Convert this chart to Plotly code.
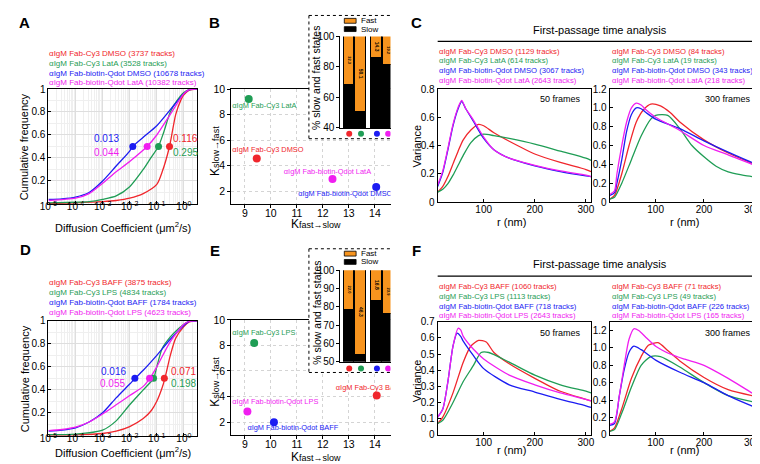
import plotly.graph_objects as go

W, H = 760, 464
FONT = "Liberation Sans, Arial, sans-serif"
RED, GREEN, BLUE, MAG = "#f0262c", "#1f9d55", "#1c1cf2", "#f01ef0"
ORANGE = "#f7941e"
COLORS = [RED, GREEN, BLUE, MAG]


def px(x):
    return x / W


def py(y):
    return 1 - y / H


# ---------------- Panel A : cumulative distributions ----------------
A_LEGEND = ["αIgM Fab-Cy3 DMSO (3737 tracks)", "αIgM Fab-Cy3 LatA (3528 tracks)",
            "αIgM Fab-biotin-Qdot DMSO (10678 tracks)", "αIgM Fab-biotin-Qdot LatA (10382 tracks)"]
A_LOGD_RED = [-5, -4, -3, -2.5, -2, -1.5, -1, -0.8, -0.53, -0.3, -0.1, 0, 0.2, 0.48]
A_CDF_RED = [0.005, 0.01, 0.02, 0.03, 0.05, 0.09, 0.17, 0.28, 0.5, 0.78, 0.91, 0.95, 0.99, 1.0]
A_LOGD_GREEN = [-5, -4, -3.5, -3, -2.5, -2, -1.5, -1.25, -0.94, -0.75, -0.5, -0.25, 0, 0.2, 0.48]
A_CDF_GREEN = [0.01, 0.015, 0.02, 0.04, 0.07, 0.15, 0.3, 0.39, 0.5, 0.62, 0.8, 0.9, 0.97, 0.995, 1.0]
A_LOGD_BLUE = [-5, -4.5, -4, -3.5, -3, -2.5, -2, -1.89, -1.5, -1, -0.5, 0, 0.2, 0.48]
A_CDF_BLUE = [0.04, 0.045, 0.06, 0.1, 0.2, 0.33, 0.46, 0.5, 0.58, 0.68, 0.82, 0.96, 0.995, 1.0]
A_LOGD_MAG = [-5, -4, -3.5, -3, -2.5, -2, -1.36, -1, -0.5, 0, 0.2, 0.48]
A_CDF_MAG = [0.03, 0.05, 0.09, 0.18, 0.28, 0.37, 0.5, 0.6, 0.78, 0.96, 0.995, 1.0]
A_MEDIAN = [0.295, 0.116, 0.013, 0.044]

# ---------------- Panel D ----------------
D_LEGEND = ["αIgM Fab-Cy3 BAFF (3875 tracks)", "αIgM Fab-Cy3 LPS (4834 tracks)",
            "αIgM Fab-biotin-Qdot BAFF (1784 tracks)", "αIgM Fab-biotin-Qdot LPS (4623 tracks)"]
D_LOGD_RED = [-5, -4, -3, -2.5, -2, -1.5, -1.2, -1, -0.8, -0.7, -0.5, -0.3, 0, 0.2, 0.48]
D_CDF_RED = [0.005, 0.008, 0.02, 0.04, 0.08, 0.15, 0.22, 0.3, 0.42, 0.5, 0.7, 0.85, 0.95, 0.99, 1.0]
D_LOGD_GREEN = [-5, -4, -3, -2.5, -2, -1.5, -1.12, -1, -0.8, -0.5, -0.25, 0, 0.2, 0.48]
D_CDF_GREEN = [0.01, 0.015, 0.05, 0.13, 0.27, 0.4, 0.5, 0.6, 0.76, 0.86, 0.92, 0.97, 0.995, 1.0]
D_LOGD_BLUE = [-5, -4.5, -4, -3.5, -3, -2.5, -2, -1.8, -1.5, -1, -0.5, 0, 0.2, 0.48]
D_CDF_BLUE = [0.04, 0.05, 0.07, 0.12, 0.2, 0.33, 0.45, 0.5, 0.57, 0.7, 0.84, 0.96, 0.995, 1.0]
D_LOGD_MAG = [-5, -4.5, -4, -3.5, -3, -2.5, -2, -1.5, -1.26, -1, -0.5, 0, 0.2, 0.48]
D_CDF_MAG = [0.045, 0.055, 0.075, 0.12, 0.19, 0.27, 0.35, 0.43, 0.5, 0.6, 0.82, 0.97, 0.995, 1.0]
D_MEDIAN = [0.19, 0.076, 0.0155, 0.054]

# ---------------- Panel B / E : rate constants ----------------
B_NAMES = ["αIgM Fab-Cy3 DMSO", "αIgM Fab-Cy3 LatA", "αIgM Fab-biotin-Qdot DMSO", "αIgM Fab-biotin-Qdot LatA"]
B_KFS = [9.46, 9.15, 14.05, 12.37]
B_KSF = [4.56, 9.21, 2.33, 2.96]
E_NAMES = ["αIgM Fab-Cy3 BAFF", "αIgM Fab-Cy3 LPS", "αIgM Fab-biotin-Qdot BAFF", "αIgM Fab-biotin-Qdot LPS"]
E_KFS = [14.07, 9.36, 10.12, 9.1]
E_KSF = [4.08, 8.19, 1.98, 2.83]

# inset bars (% slow / fast)
B_SLOW = [67.7, 49.9, 85.7, 80.8]
B_FAST = [32.3, 50.1, 14.3, 19.2]
E_SLOW = [78.0, 53.7, 83.2, 76.1]
E_FAST = [22.0, 46.3, 16.8, 23.9]
BAR_POS = [0, 1, 2.35, 3.3]

# ---------------- Panel C / F : first-passage time variance ----------------
C1_LEGEND = ["αIgM Fab-Cy3 DMSO (1129 tracks)", "αIgM Fab-Cy3 LatA (614 tracks)",
             "αIgM Fab-biotin-Qdot DMSO (3067 tracks)", "αIgM Fab-biotin-Qdot LatA (2643 tracks)"]
C2_LEGEND = ["αIgM Fab-Cy3 DMSO (84 tracks)", "αIgM Fab-Cy3 LatA (19 tracks)",
             "αIgM Fab-biotin-Qdot DMSO (343 tracks)", "αIgM Fab-biotin-Qdot LatA (218 tracks)"]
F1_LEGEND = ["αIgM Fab-Cy3 BAFF (1060 tracks)", "αIgM Fab-Cy3 LPS (1113 tracks)",
             "αIgM Fab-biotin-Qdot BAFF (718 tracks)", "αIgM Fab-biotin-Qdot LPS (2643 tracks)"]
F2_LEGEND = ["αIgM Fab-Cy3 BAFF (71 tracks)", "αIgM Fab-Cy3 LPS (49 tracks)",
             "αIgM Fab-biotin-Qdot BAFF (226 tracks)", "αIgM Fab-biotin-Qdot LPS (165 tracks)"]

C1_R_RED = [10, 20, 30, 40, 50, 60, 75, 90, 100, 120, 150, 200, 250, 300, 310]
C1_V_RED = [0.07, 0.11, 0.18, 0.27, 0.36, 0.44, 0.51, 0.55, 0.54, 0.49, 0.43, 0.34, 0.28, 0.23, 0.215]
C1_R_GREEN = [10, 20, 30, 40, 50, 60, 75, 90, 100, 120, 150, 200, 250, 300, 310]
C1_V_GREEN = [0.07, 0.09, 0.13, 0.19, 0.26, 0.33, 0.42, 0.47, 0.48, 0.47, 0.45, 0.41, 0.36, 0.31, 0.295]
C1_R_BLUE = [10, 20, 30, 40, 50, 57, 65, 80, 100, 120, 150, 200, 250, 300, 310]
C1_V_BLUE = [0.11, 0.21, 0.37, 0.54, 0.66, 0.71, 0.66, 0.57, 0.45, 0.37, 0.31, 0.255, 0.215, 0.185, 0.18]
C1_R_MAG = [10, 20, 30, 40, 50, 57, 65, 80, 100, 120, 150, 200, 250, 300, 310]
C1_V_MAG = [0.12, 0.22, 0.38, 0.55, 0.67, 0.72, 0.66, 0.58, 0.46, 0.37, 0.31, 0.26, 0.22, 0.19, 0.18]

C2_R_RED = [5, 15, 30, 45, 60, 75, 90, 110, 130, 150, 200, 250, 300, 320]
C2_V_RED = [0.03, 0.07, 0.3, 0.6, 0.85, 0.98, 1.04, 1.02, 0.95, 0.85, 0.66, 0.52, 0.41, 0.37]
C2_R_GREEN = [5, 15, 30, 50, 70, 90, 100, 125, 150, 175, 200, 225, 250, 275, 300, 320]
C2_V_GREEN = [0.03, 0.05, 0.2, 0.45, 0.7, 0.88, 0.92, 0.92, 0.78, 0.6, 0.48, 0.38, 0.32, 0.29, 0.27, 0.27]
C2_R_BLUE = [5, 15, 20, 30, 40, 50, 60, 70, 80, 100, 150, 200, 250, 300, 320]
C2_V_BLUE = [0.07, 0.1, 0.2, 0.45, 0.75, 0.93, 1.0, 0.99, 0.95, 0.88, 0.78, 0.65, 0.53, 0.42, 0.39]
C2_R_MAG = [5, 15, 20, 30, 40, 50, 60, 70, 80, 100, 150, 200, 250, 300, 320]
C2_V_MAG = [0.08, 0.12, 0.3, 0.6, 0.85, 1.0, 1.05, 1.03, 0.98, 0.9, 0.76, 0.6, 0.5, 0.4, 0.37]

F1_R_RED = [10, 20, 40, 60, 75, 90, 105, 120, 150, 200, 250, 300, 310]
F1_V_RED = [0.07, 0.11, 0.26, 0.45, 0.55, 0.585, 0.575, 0.51, 0.44, 0.35, 0.27, 0.22, 0.21]
F1_R_GREEN = [10, 20, 40, 60, 80, 95, 110, 150, 200, 250, 300, 310]
F1_V_GREEN = [0.07, 0.09, 0.2, 0.33, 0.43, 0.51, 0.51, 0.45, 0.37, 0.31, 0.27, 0.26]
F1_R_BLUE = [10, 20, 30, 40, 48, 55, 60, 80, 100, 150, 200, 250, 300, 310]
F1_V_BLUE = [0.11, 0.16, 0.33, 0.55, 0.63, 0.61, 0.58, 0.49, 0.41, 0.31, 0.265, 0.22, 0.18, 0.17]
F1_R_MAG = [10, 20, 30, 40, 50, 55, 60, 80, 100, 150, 200, 250, 300, 310]
F1_V_MAG = [0.11, 0.16, 0.33, 0.55, 0.66, 0.65, 0.61, 0.53, 0.47, 0.37, 0.31, 0.26, 0.22, 0.21]

F2_R_RED = [5, 15, 30, 50, 70, 85, 105, 125, 150, 200, 250, 300, 320]
F2_V_RED = [0.04, 0.08, 0.3, 0.65, 0.9, 1.03, 1.06, 0.97, 0.85, 0.66, 0.52, 0.45, 0.43]
F2_R_GREEN = [5, 15, 30, 50, 70, 90, 110, 150, 200, 250, 300, 320]
F2_V_GREEN = [0.04, 0.06, 0.25, 0.55, 0.8, 0.9, 0.9, 0.78, 0.6, 0.45, 0.38, 0.35]
F2_R_BLUE = [5, 15, 25, 35, 45, 55, 70, 100, 150, 200, 250, 300, 320]
F2_V_BLUE = [0.11, 0.13, 0.45, 0.75, 0.95, 1.02, 0.98, 0.86, 0.72, 0.6, 0.45, 0.33, 0.29]
F2_R_MAG = [5, 15, 25, 35, 45, 55, 65, 80, 100, 130, 160, 200, 250, 300, 320]
F2_V_MAG = [0.12, 0.15, 0.45, 0.8, 1.1, 1.22, 1.2, 1.12, 1.02, 0.93, 0.87, 0.8, 0.65, 0.48, 0.42]

fig = go.Figure()


def add_lines(xs, ys, xa, ya, log=False):
    for x, y, c in zip(xs, ys, COLORS):
        xx = [10 ** e for e in x] if log else x
        fig.add_trace(go.Scatter(x=xx, y=y, mode="lines", xaxis=xa, yaxis=ya,
                                 line=dict(color=c, width=1.3, shape="spline", smoothing=0.7),
                                 hoverinfo="skip", showlegend=False))


# Panel A
add_lines([A_LOGD_RED, A_LOGD_GREEN, A_LOGD_BLUE, A_LOGD_MAG],
          [A_CDF_RED, A_CDF_GREEN, A_CDF_BLUE, A_CDF_MAG], "x", "y", log=True)
fig.add_trace(go.Scatter(x=A_MEDIAN, y=[0.5] * 4, mode="markers", xaxis="x", yaxis="y",
                         marker=dict(color=COLORS, size=7), showlegend=False))
# Panel D
add_lines([D_LOGD_RED, D_LOGD_GREEN, D_LOGD_BLUE, D_LOGD_MAG],
          [D_CDF_RED, D_CDF_GREEN, D_CDF_BLUE, D_CDF_MAG], "x7", "y7", log=True)
fig.add_trace(go.Scatter(x=D_MEDIAN, y=[0.5] * 4, mode="markers", xaxis="x7", yaxis="y7",
                         marker=dict(color=COLORS, size=7), showlegend=False))

# Panel C / F
add_lines([C1_R_RED, C1_R_GREEN, C1_R_BLUE, C1_R_MAG], [C1_V_RED, C1_V_GREEN, C1_V_BLUE, C1_V_MAG], "x5", "y5")
add_lines([C2_R_RED, C2_R_GREEN, C2_R_BLUE, C2_R_MAG], [C2_V_RED, C2_V_GREEN, C2_V_BLUE, C2_V_MAG], "x6", "y6")
add_lines([F1_R_RED, F1_R_GREEN, F1_R_BLUE, F1_R_MAG], [F1_V_RED, F1_V_GREEN, F1_V_BLUE, F1_V_MAG], "x11", "y11")
add_lines([F2_R_RED, F2_R_GREEN, F2_R_BLUE, F2_R_MAG], [F2_V_RED, F2_V_GREEN, F2_V_BLUE, F2_V_MAG], "x12", "y12")


# Panels B / E scatter with labels (label anchor positions in data units)
def add_rates(kfs, ksf, names, label_xy, xa, ya):
    fig.add_trace(go.Scatter(x=kfs, y=ksf, mode="markers", xaxis=xa, yaxis=ya,
                             marker=dict(color=COLORS, size=8), showlegend=False))
    fig.add_trace(go.Scatter(x=[p[0] for p in label_xy], y=[p[1] for p in label_xy], mode="text",
                             text=names, textposition="middle right", xaxis=xa, yaxis=ya,
                             textfont=dict(color=COLORS, size=7.4), cliponaxis=True, showlegend=False))


add_rates(B_KFS, B_KSF, B_NAMES, [(8.52, 5.19), (8.52, 8.63), (11.05, 1.76), (10.5, 3.52)], "x2", "y2")
add_rates(E_KFS, E_KSF, E_NAMES, [(12.5, 4.66), (8.52, 8.93), (9.1, 1.53), (8.52, 3.52)], "x8", "y8")

# cover subplots (white background for insets, same scale as the inset axes) with the colour dots
for xa, ya, ydot in (("x3", "y3", 36.2), ("x9", "y9", 46.3)):
    fig.add_trace(go.Scatter(x=BAR_POS, y=[ydot] * 4, mode="markers", xaxis=xa, yaxis=ya,
                             marker=dict(color=COLORS, size=6), showlegend=False))


def add_inset(slow, fast, xa, ya):
    fig.add_trace(go.Bar(x=BAR_POS, y=slow, xaxis=xa, yaxis=ya, width=0.88,
                         marker=dict(color="black", line=dict(color="black", width=1)), showlegend=False))
    fig.add_trace(go.Bar(x=BAR_POS, y=fast, xaxis=xa, yaxis=ya, width=0.88,
                         marker=dict(color=ORANGE, line=dict(color="black", width=1)),
                         texttemplate="<b>%{y:.1f}</b>", textposition="inside", insidetextanchor="middle",
                         textangle=90, textfont=dict(size=6, color="black"), showlegend=False))


add_inset(B_SLOW, B_FAST, "x4", "y4")
add_inset(E_SLOW, E_FAST, "x10", "y10")

# ---------------- axes ----------------
TF = dict(size=10, color="black")


def box(**kw):
    d = dict(showline=True, linecolor="black", linewidth=1, mirror=True, ticks="inside", ticklen=3,
             tickcolor="black", zeroline=False, showgrid=False, tickfont=TF)
    d.update(kw)
    return d


LOG_TV = [1e-5, 1e-4, 1e-3, 1e-2, 1e-1, 1]
LOG_TT = ["10<sup>-5</sup>", "10<sup>-4</sup>", "10<sup>-3</sup>", "10<sup>-2</sup>", "10<sup>-1</sup>", "10<sup>0</sup>"]
LOG_MINOR = [k * 10.0 ** e for e in range(-5, 1) for k in range(2, 10)]


def cdf_axes(xd, yd, anchor_x, anchor_y):
    xa = box(domain=xd, anchor=anchor_y, type="log", range=[-5, 0.48], tickmode="array",
             tickvals=LOG_TV, ticktext=LOG_TT, showgrid=True, gridcolor="#dedede", ticklabelstandoff=-7,
             minor=dict(tickmode="array", tickvals=LOG_MINOR, showgrid=True, gridcolor="#efefef", ticks=""))
    ya = box(domain=yd, anchor=anchor_x, range=[0, 1], tickmode="array",
             tickvals=[0.2, 0.4, 0.6, 0.8, 1], ticktext=["0.2", "0.4", "0.6", "0.8", "1"],
             showgrid=True, gridcolor="#dedede",
             minor=dict(dtick=0.1, showgrid=True, gridcolor="#efefef", ticks=""))
    return xa, ya


def rate_axes(xd, yd, anchor_x, anchor_y):
    common = dict(showline=True, linecolor="black", linewidth=1.2, ticks="outside", ticklen=3,
                  tickcolor="black", zeroline=False, showgrid=True, gridcolor="#d4d4d4",
                  griddash="dot", tickfont=dict(size=10.5, color="black"))
    xa = dict(common, domain=xd, anchor=anchor_y, range=[8.48, 14.6], tickvals=[9, 10, 11, 12, 13, 14],
              mirror=True, ticklabelstandoff=-4)
    ya = dict(common, domain=yd, anchor=anchor_x, range=[1, 10], tickvals=[2, 4, 6, 8, 10], mirror=False)
    return xa, ya


INSET_XR = [-0.75, 3.5]


def inset_axes(xd, yd, anchor_x, anchor_y, yr, yt):
    xa = dict(domain=[px(xd[0]), px(xd[1])], anchor=anchor_y, range=INSET_XR, showline=True, linecolor="black",
              linewidth=1.2, showticklabels=False, ticks="", showgrid=False, zeroline=False)
    ya = dict(domain=[py(yd[1]), py(yd[0])], anchor=anchor_x, range=yr, tickvals=yt, showline=True,
              linecolor="black", linewidth=1.2, ticks="outside", ticklen=3, tickcolor="black", showgrid=False,
              zeroline=False, tickfont=dict(size=10, color="black"))
    return xa, ya


def cover_axes(cx, cy, ix, iy, yr, anchor_x, anchor_y):
    # same pixel scale as the inset axes, extended over the dotted box
    sx = (ix[1] - ix[0]) / (INSET_XR[1] - INSET_XR[0])
    sy = (iy[1] - iy[0]) / (yr[1] - yr[0])
    xr = [INSET_XR[0] - (ix[0] - cx[0]) / sx, INSET_XR[1] + (cx[1] - ix[1]) / sx]
    yrr = [yr[0] - (cy[1] - iy[1]) / sy, yr[1] + (iy[0] - cy[0]) / sy]
    base = dict(visible=False, showgrid=False, zeroline=False)
    xa = dict(base, domain=[px(cx[0]), px(cx[1])], anchor=anchor_y, range=xr)
    ya = dict(base, domain=[py(cy[1]), py(cy[0])], anchor=anchor_x, range=yrr)
    return xa, ya, xr, yrr


ax = {}
ax["xaxis"], ax["yaxis"] = cdf_axes([px(32), px(183)], [py(195), py(77)], "x", "y")
ax["xaxis7"], ax["yaxis7"] = cdf_axes([px(32), px(183)], [py(433), py(315)], "x7", "y7")
ax["xaxis2"], ax["yaxis2"] = rate_axes([px(218), px(380)], [py(195), py(77)], "x2", "y2")
ax["xaxis8"], ax["yaxis8"] = rate_axes([px(218), px(380)], [py(432), py(314)], "x8", "y8")

ax["xaxis4"], ax["yaxis4"] = inset_axes((329, 380), (23, 117), "x4", "y4", [40, 100], [40, 60, 80, 100])
ax["xaxis10"], ax["yaxis10"] = inset_axes((329, 380), (263, 357), "x10", "y10", [50, 100],
                                          [50, 60, 70, 80, 90, 100])
ax["xaxis3"], ax["yaxis3"], cxr3, cyr3 = cover_axes((297, 380), (2, 128), (329, 380), (23, 117), [40, 100], "x3", "y3")
ax["xaxis9"], ax["yaxis9"], cxr9, cyr9 = cover_axes((297, 380), (241, 368), (329, 380), (263, 357), [50, 100],
                                                    "x9", "y9")


def var_axes(xd, yd, anchor_x, anchor_y, xr, yr, yt, ytt):
    xa = box(domain=xd, anchor=anchor_y, range=xr, tickvals=[100, 200, 300], ticklabelstandoff=-2)
    ya = box(domain=yd, anchor=anchor_x, range=yr, tickvals=yt, ticktext=ytt)
    return xa, ya


T08 = [0, 0.2, 0.4, 0.6, 0.8]
T12 = [0, 0.2, 0.4, 0.6, 0.8, 1.0, 1.2]
T12T = ["0", "0.2", "0.4", "0.6", "0.8", "1.0", "1.2"]
T07 = [0, 0.1, 0.2, 0.3, 0.4, 0.5, 0.6, 0.7]
ax["xaxis5"], ax["yaxis5"] = var_axes([px(428), px(584)], [py(193), py(77)], "x5", "y5", [10, 310], [0, 0.8],
                                      T08, ["0", "0.2", "0.4", "0.6", "0.8"])
ax["xaxis6"], ax["yaxis6"] = var_axes([px(603), px(758)], [py(193), py(77)], "x6", "y6", [5, 320], [0, 1.2],
                                      T12, T12T)
ax["xaxis11"], ax["yaxis11"] = var_axes([px(428), px(584)], [py(432), py(316)], "x11", "y11", [10, 310], [0, 0.7],
                                        T07, ["0", "0.1", "0.2", "0.3", "0.4", "0.5", "0.6", "0.7"])
ax["xaxis12"], ax["yaxis12"] = var_axes([px(603), px(758)], [py(432), py(316)], "x12", "y12", [5, 320], [0, 1.3],
                                        T12, T12T)

# ---------------- annotations ----------------
ann = []


def text(x, y, s, size=10, color="black", xanchor="center", angle=0, bold=False):
    ann.append(dict(x=px(x), y=py(y), xref="paper", yref="paper", text=("<b>%s</b>" % s) if bold else s,
                    showarrow=False, xanchor=xanchor, yanchor="middle", textangle=angle,
                    font=dict(size=size, color=color)))


# panel letters
for L, x, y in (("A", 8, 9), ("B", 201, 9), ("C", 406, 9), ("D", 9, 242), ("E", 201, 243), ("F", 406, 243)):
    text(x, y, L, size=15, bold=True)

# legends A / D
for i, (s, c) in enumerate(zip(A_LEGEND, COLORS)):
    text(31, 41 + i * 9.8, s, size=8, color=c, xanchor="left")
for i, (s, c) in enumerate(zip(D_LEGEND, COLORS)):
    text(31, 276 + i * 10, s, size=8, color=c, xanchor="left")
# legends C / F
for lst, x0, y0 in ((C1_LEGEND, 427, 38), (C2_LEGEND, 603, 38), (F1_LEGEND, 427, 280), (F2_LEGEND, 603, 280)):
    for i, (s, c) in enumerate(zip(lst, COLORS)):
        text(x0, y0 + i * 10, s, size=7.7, color=c, xanchor="left")

# median labels
for s, c, x, y, xa in (("0.013", BLUE, 106, 128, "right"), ("0.044", MAG, 106, 142, "right"),
                       ("0.116", RED, 157, 128, "left"), ("0.295", GREEN, 157, 142, "left"),
                       ("0.016", BLUE, 113, 367, "right"), ("0.055", MAG, 112, 379, "right"),
                       ("0.071", RED, 155, 367, "left"), ("0.198", GREEN, 155, 379, "left")):
    text(x, y, s, size=10, color=c, xanchor=xa)

# axis titles
text(8, 136, "Cumulative frequency", size=11, angle=-90)
text(8, 374, "Cumulative frequency", size=11, angle=-90)
text(108, 219, "Diffusion Coefficient (μm<sup>2</sup>/s)", size=11)
text(108, 450, "Diffusion Coefficient (μm<sup>2</sup>/s)", size=11)
KFS = "K<span style='font-size:9px'>fast→slow</span>"
KSF = "K<span style='font-size:9px'>slow→fast</span>"
text(304, 216, KFS, size=12)
text(304, 455, KFS, size=12)
text(202, 141, KSF, size=12, angle=-90)
text(202, 378, KSF, size=12, angle=-90)
text(305, 66, "% slow and fast states", size=10.5, angle=-90)
text(305, 307, "% slow and fast states", size=10.5, angle=-90)
text(407, 136, "Variance", size=11, angle=-90)
text(407, 377, "Variance", size=11, angle=-90)
for y in (214, 448):
    text(503, y, "r (nm)", size=11)
    text(679, y, "r (nm)", size=11)
text(593, 16, "First-passage time analysis", size=11)
text(593, 257, "First-passage time analysis", size=11)
text(576, 87, "50 frames", size=9, xanchor="right")
text(749, 87, "300 frames", size=9, xanchor="right")
text(576, 327, "50 frames", size=9, xanchor="right")
text(749, 327, "300 frames", size=9, xanchor="right")

# inset legends
shapes = []
for y0 in (2, 241):
    text(348, y0 + 5, "Fast", size=8, xanchor="left")
    text(348, y0 + 13.5, "Slow", size=8, xanchor="left")
    shapes.append(dict(type="rect", xref="paper", yref="paper", x0=px(333), x1=px(345), y0=py(y0 + 2.5),
                       y1=py(y0 + 7.5), fillcolor=ORANGE, line=dict(color="black", width=0.8), layer="above"))
    shapes.append(dict(type="rect", xref="paper", yref="paper", x0=px(333), x1=px(345), y0=py(y0 + 11),
                       y1=py(y0 + 16), fillcolor="black", line=dict(color="black", width=0.8), layer="above"))

# white covers for inset regions (drawn in the cover subplots, above panel B/E content)
for xa, ya, xr, yr in (("x3", "y3", cxr3, cyr3), ("x9", "y9", cxr9, cyr9)):
    shapes.append(dict(type="rect", xref=xa, yref=ya, x0=xr[0], x1=xr[1], y0=yr[0], y1=yr[1],
                       fillcolor="white", line=dict(width=0), layer="below"))
# dotted inset borders
for top, bot in ((1.5, 128), (241, 368)):
    for (x0, y0, x1, y1) in ((297, top, 381, top), (297, top, 297, bot), (297, bot, 381, bot)):
        shapes.append(dict(type="line", xref="paper", yref="paper", x0=px(x0), x1=px(x1), y0=py(y0), y1=py(y1),
                           line=dict(color="black", width=1, dash="dot"), layer="above"))
# title underline C / F
for y in (28, 269):
    shapes.append(dict(type="line", xref="paper", yref="paper", x0=px(428), x1=px(758), y0=py(y), y1=py(y),
                       line=dict(color="black", width=1.2), layer="above"))

fig.update_layout(width=W, height=H, margin=dict(l=0, r=0, t=0, b=0), paper_bgcolor="white",
                  plot_bgcolor="white", showlegend=False, barmode="stack", bargap=0,
                  font=dict(family=FONT, size=10, color="black"), annotations=ann, shapes=shapes, **ax)

fig.write_html("out.html")
